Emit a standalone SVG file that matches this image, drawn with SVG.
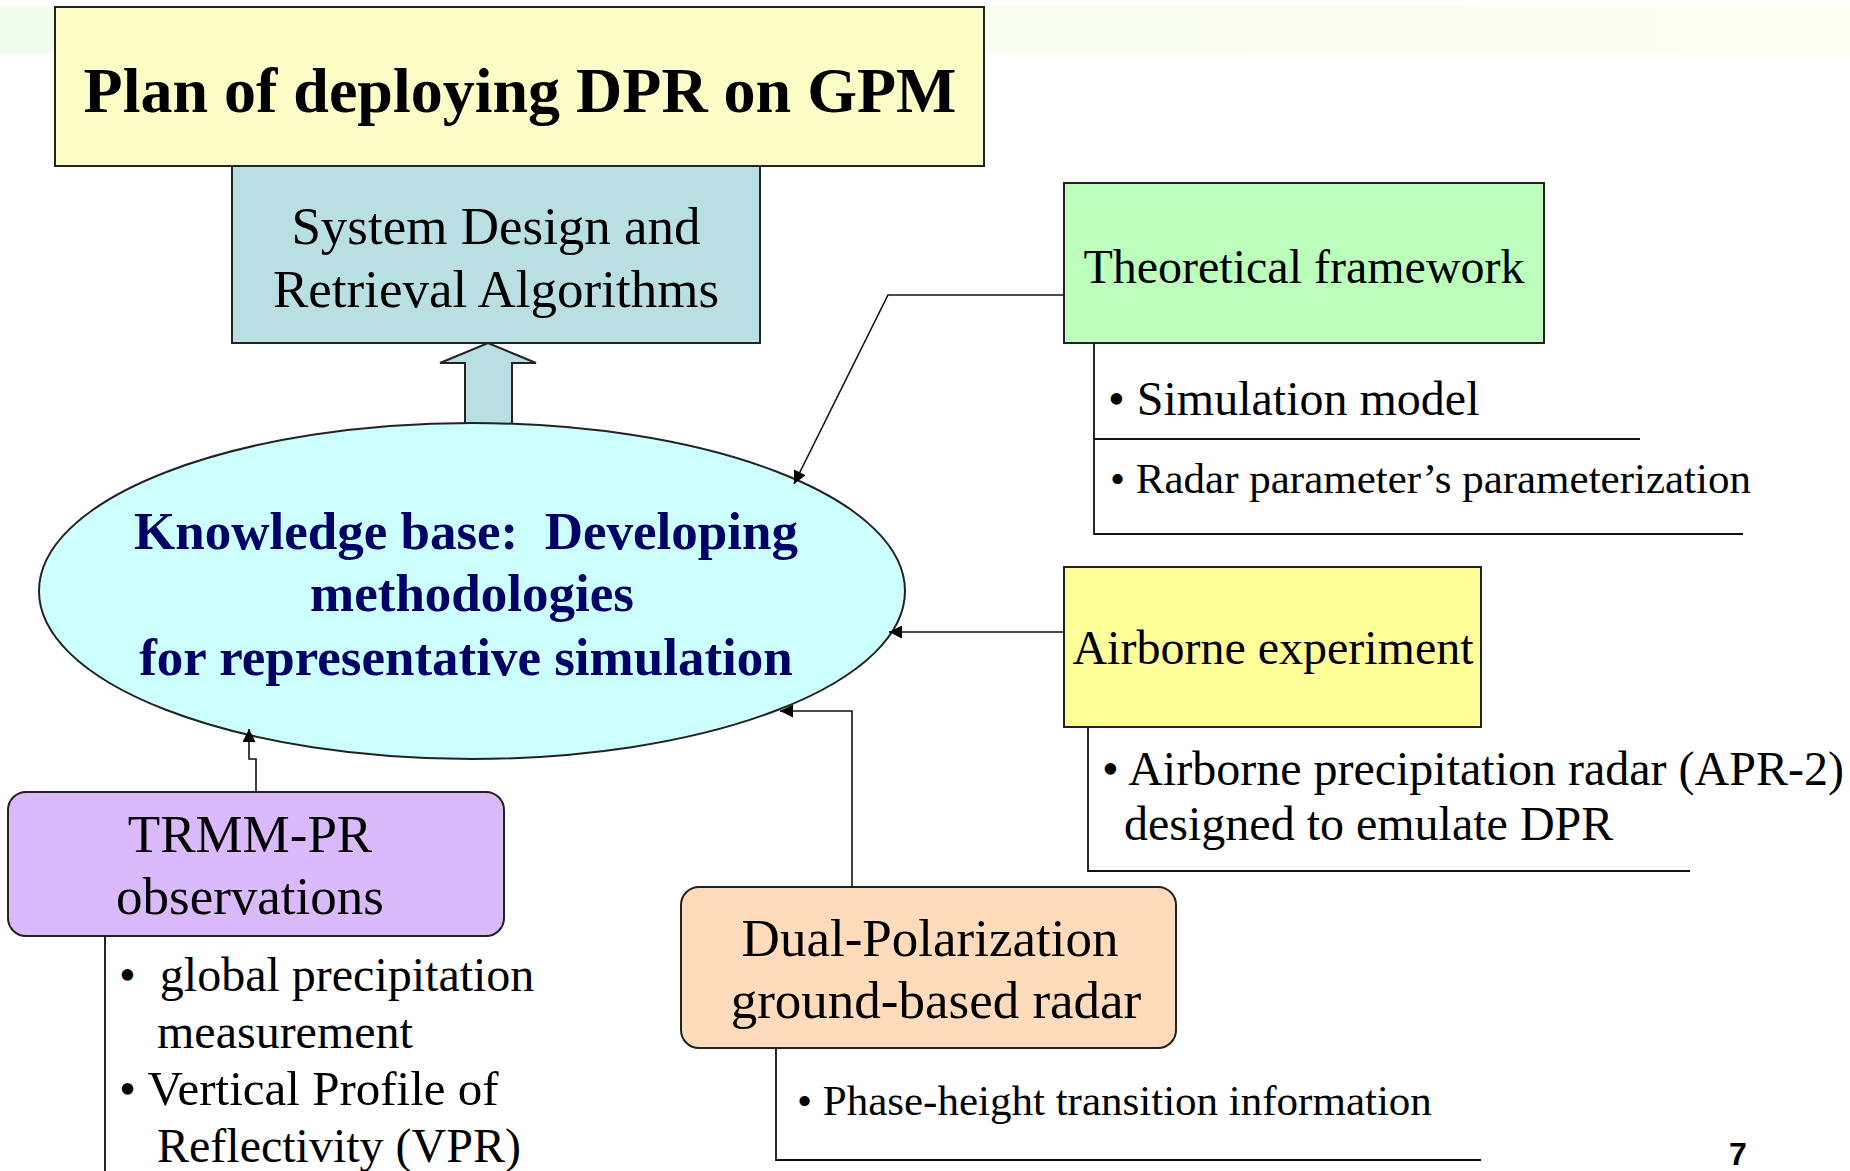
<svg xmlns="http://www.w3.org/2000/svg" width="1850" height="1171" viewBox="0 0 1850 1171">
<defs>
<linearGradient id="band" x1="0" y1="0" x2="1" y2="0">
<stop offset="0" stop-color="#eefde8"/>
<stop offset="1" stop-color="#fefff0"/>
</linearGradient>
<marker id="arr" viewBox="0 0 10 10" refX="10" refY="5" markerWidth="16" markerHeight="13" markerUnits="userSpaceOnUse" orient="auto">
<path d="M0,0 L10,5 L0,10 z" fill="#000"/>
</marker>
</defs>
<style>
text{font-family:"Liberation Serif","Times New Roman",serif;fill:#000}
.box{stroke:#222;stroke-width:2}
.line{fill:none;stroke:#111;stroke-width:1.8}
.conn{fill:none;stroke:#111;stroke-width:1.6}
.t48{font-size:48px}
.t53{font-size:53px}
.t43{font-size:43px}
.mid{text-anchor:middle}
</style>
<rect width="1850" height="1171" fill="#fff"/>
<rect x="0" y="7" width="1850" height="46" fill="url(#band)"/>

<g id="title">
<rect class="box" x="55" y="7" width="929" height="159" fill="#fcfcc6"/>
<text x="520" y="112" class="mid" font-size="64" font-weight="bold">Plan of deploying DPR on GPM</text>
</g>

<g id="system-design">
<rect class="box" x="232" y="166" width="528" height="177" fill="#b9dfe3"/>
<text x="496" y="244" class="mid t53">System Design and</text>
<text x="496" y="307" class="mid t53">Retrieval Algorithms</text>
</g>

<g id="block-arrow">
<path d="M465,423 L465,363 L440,363 L488,343 L536,363 L512,363 L512,423" fill="#b9dfe3" stroke="#222" stroke-width="2"/>
</g>

<g id="knowledge-base">
<ellipse class="box" cx="472" cy="591" rx="433" ry="168" fill="#ccffff"/>
<text x="466" y="549" class="mid t53" font-weight="bold" style="fill:#000066" xml:space="preserve">Knowledge base:  Developing</text>
<text x="472" y="611" class="mid t53" font-weight="bold" style="fill:#000066">methodologies</text>
<text x="466" y="675" class="mid t53" font-weight="bold" style="fill:#000066">for representative simulation</text>
</g>

<g id="theoretical">
<rect class="box" x="1064" y="183" width="480" height="160" fill="#bbffbb"/>
<text x="1304" y="283" class="mid t48">Theoretical framework</text>
<path class="line" d="M1094,343 L1094,534 L1743,534 M1094,439 L1640,439"/>
<text x="1108" y="415" class="t48">• Simulation model</text>
<text x="1110" y="493" class="t43">• Radar parameter’s parameterization</text>
</g>

<g id="airborne">
<rect class="box" x="1064" y="567" width="417" height="160" fill="#ffff99"/>
<text x="1273" y="664" class="mid t48">Airborne experiment</text>
<path class="line" d="M1088,727 L1088,871 L1690,871"/>
<text x="1102" y="785" class="t48">• Airborne precipitation radar (APR-2)</text>
<text x="1124" y="840" class="t48">designed to emulate DPR</text>
</g>

<g id="trmm">
<rect class="box" x="8" y="792" width="496" height="144" rx="18" fill="#dbbafb"/>
<text x="250" y="852" class="mid t53">TRMM-PR</text>
<text x="250" y="914" class="mid t53">observations</text>
<path class="line" d="M105,936 L105,1171"/>
<text x="119" y="991" class="t48" xml:space="preserve">•  global precipitation</text>
<text x="157" y="1048" class="t48">measurement</text>
<text x="119" y="1105" font-size="49">• Vertical Profile of</text>
<text x="157" y="1162" class="t48">Reflectivity (VPR)</text>
</g>

<g id="dual-pol">
<rect class="box" x="681" y="887" width="495" height="161" rx="18" fill="#fedcbb"/>
<text x="930" y="956" class="mid t53">Dual-Polarization</text>
<text x="936" y="1018" class="mid t53">ground-based radar</text>
<path class="line" d="M776,1048 L776,1160 L1481,1160"/>
<text x="797" y="1115" class="t43">• Phase-height transition information</text>
</g>

<g id="connectors">
<path class="conn" d="M1064,295 L888,295 L794,484" marker-end="url(#arr)"/>
<path class="conn" d="M1064,632 L889,632" marker-end="url(#arr)"/>
<path class="conn" d="M852,887 L852,711 L780,711" marker-end="url(#arr)"/>
<path class="conn" d="M256,792 L256,759 L249,759 L249,729" marker-end="url(#arr)"/>
</g>

<text x="1729" y="1165" font-size="32" font-weight="bold" style="font-family:'Liberation Sans',Arial,sans-serif">7</text>
</svg>
